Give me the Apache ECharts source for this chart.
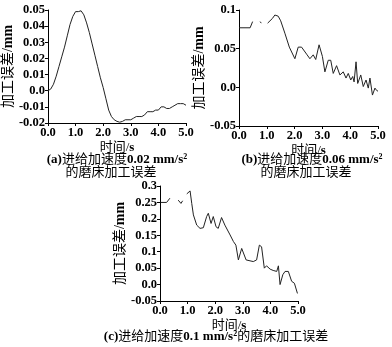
<!DOCTYPE html>
<html><head><meta charset="utf-8">
<script src="https://cdn.jsdelivr.net/npm/echarts@6/dist/echarts.min.js"></script>
<style>html,body{margin:0;padding:0;background:#fff}#c{width:392px;height:347px}</style>
</head><body><div id="c"></div>
<script>
// Data [time s, error mm]
const seriesA = [[0,0],[0.1,0.001],[0.2,0.004],[0.3,0.009],[0.4,0.015],[0.5,0.021],[0.6,0.027],[0.7,0.034],[0.8,0.041],[0.9,0.046],[1.0,0.049],[1.1,0.049],[1.2,0.0495],[1.3,0.047],[1.4,0.042],[1.5,0.036],[1.6,0.029],[1.7,0.022],[1.8,0.015],[1.9,0.008],[2.0,0.002],[2.1,-0.005],[2.2,-0.012],[2.3,-0.016],[2.4,-0.018],[2.5,-0.019],[2.6,-0.0195],[2.7,-0.019],[2.8,-0.018],[2.9,-0.018],[3.0,-0.018],[3.1,-0.017],[3.2,-0.016],[3.3,-0.016],[3.4,-0.016],[3.5,-0.015],[3.6,-0.013],[3.7,-0.013],[3.8,-0.013],[3.9,-0.012],[4.0,-0.012],[4.1,-0.010],[4.2,-0.010],[4.3,-0.011],[4.4,-0.011],[4.5,-0.010],[4.6,-0.009],[4.7,-0.008],[4.8,-0.008],[4.9,-0.008],[5.0,-0.009]];
const seriesB = [[0,0.077],[0.4,0.077],[0.49,0.085],[0.55,null],[0.76,0.085],[0.8,0.083],[0.85,null],[1.03,0.083],[1.1,0.081],[1.2,0.089],[1.29,0.0935],[1.41,0.092],[1.5,0.086],[1.65,0.070],[1.81,0.052],[2.01,0.037],[2.13,0.052],[2.25,0.052],[2.45,0.042],[2.55,0.037],[2.67,0.042],[2.76,0.036],[2.88,0.055],[3.0,0.040],[3.09,0.020],[3.21,0.035],[3.3,0.035],[3.39,0.018],[3.51,0.028],[3.63,0.016],[3.75,0.020],[3.85,0.012],[3.93,0.018],[4.02,0.0095],[4.09,0.014],[4.14,0.007],[4.21,0.033],[4.27,0.005],[4.38,0.016],[4.47,0.001],[4.57,0.0095],[4.65,-0.001],[4.71,0.012],[4.8,-0.010],[4.89,-0.001],[4.95,-0.004],[5.0,-0.005]];
const seriesC = [[0.03,0.25],[0.24,0.25],[0.36,0.263],[0.45,null],[0.66,0.257],[0.76,0.247],[0.82,0.255],[0.9,null],[0.97,0.276],[1.09,0.285],[1.15,0.247],[1.21,0.212],[1.33,0.181],[1.45,0.171],[1.57,0.173],[1.69,0.207],[1.75,0.217],[1.85,0.186],[1.93,0.207],[2.03,0.176],[2.11,0.171],[2.23,0.204],[2.35,0.181],[2.54,0.151],[2.66,0.131],[2.75,0.12],[2.84,0.075],[2.96,0.11],[3.02,0.105],[3.12,0.075],[3.38,0.07],[3.5,0.075],[3.6,0.12],[3.68,0.115],[3.78,0.05],[3.86,0.057],[3.99,0.047],[4.1,0.043],[4.23,0.04],[4.29,0.057],[4.35,0.0],[4.45,0.03],[4.53,0.04],[4.65,0.04],[4.77,0.01],[4.87,0.004],[4.98,-0.027]];
const xTicks = {min:0, max:5, interval:1};
const yA = {min:-0.02, max:0.05, interval:0.01};
const yB = {min:-0.05, max:0.1, interval:0.05};
const yC = {min:-0.05, max:0.3, interval:0.05};
const yName = '{c|加工误差/}{b|mm}';
const xName = '{c|时间/}{b|s}';

const FONT = '"Liberation Serif","Noto Sans CJK SC",serif';
const yFmt = v => Math.abs(v) < 1e-9 ? '0.0' : String(parseFloat(v.toFixed(3)));
const xFmt = v => v.toFixed(1);
const axisLine = {show:true, onZero:false, lineStyle:{color:'#000', width:1}};
const axisTick = {show:true, inside:false, length:3, lineStyle:{color:'#000'}};
function nameRich(sz){
  return {c:{fontFamily:FONT, fontSize:sz, color:'#000'}, b:{fontFamily:FONT, fontSize:sz, fontWeight:'bold', color:'#000'}};
}
function xAxis(i){
  return {type:'value', gridIndex:i, ...xTicks, axisLine, axisTick, splitLine:{show:false},
    axisLabel:{formatter:xFmt, color:'#000', fontFamily:FONT, fontWeight:'bold', fontSize:12.5, margin:4},
    name:xName, nameLocation:'middle', nameGap:18,
    nameTextStyle:{color:'#000', fontFamily:FONT, fontSize:13, rich:nameRich(13)}};
}
function yAxis(i, r, gap){
  return {type:'value', gridIndex:i, ...r, axisLine, axisTick, splitLine:{show:false},
    axisLabel:{formatter:yFmt, color:'#000', fontFamily:FONT, fontWeight:'bold', fontSize:12.5, margin:3},
    name:yName, nameLocation:'middle', nameGap:gap, nameRotate:90,
    nameTextStyle:{color:'#000', fontFamily:FONT, fontSize:14, rich:nameRich(14)}};
}
function line(i, d){
  return {type:'line', xAxisIndex:i, yAxisIndex:i, data:d, showSymbol:false, connectNulls:false,
    lineStyle:{color:'#222', width:1}, animation:false, smooth:false};
}
const rich = {
  b:{fontFamily:FONT, fontWeight:'bold', fontSize:13, fill:'#000'},
  c:{fontFamily:FONT, fontSize:13, fill:'#000'},
  s:{fontFamily:FONT, fontWeight:'bold', fontSize:8, fill:'#000', padding:[0,0,7,0]}
};
function cap(x, y, text){
  return {type:'text', x, y, style:{text, rich, align:'center', verticalAlign:'middle', fill:'#000'}};
}
const chart = echarts.init(document.getElementById('c'), null, {renderer:'canvas'});
chart.setOption({
  backgroundColor:'#fff',
  animation:false,
  grid:[
    {left:47, top:10, width:139, height:113},
    {left:239, top:10, width:139, height:116},
    {left:160, top:186, width:138, height:115}
  ],
  xAxis:[xAxis(0), xAxis(1), xAxis(2)],
  yAxis:[yAxis(0, yA, 29), yAxis(1, yB, 28), yAxis(2, yC, 30)],
  series:[line(0, seriesA), line(1, seriesB), line(2, seriesC)],
  graphic:[
    cap(117, 160, '{b|(a)}{c|进给加速度}{b|0.02 mm/s}{s|2}'),
    cap(111, 173, '{c|的磨床加工误差}'),
    cap(312, 160, '{b|(b)}{c|进给加速度}{b|0.06 mm/s}{s|2}'),
    cap(306, 173, '{c|的磨床加工误差}'),
    cap(216, 337, '{b|(c)}{c|进给加速度}{b|0.1 mm/s}{s|2}{c|的磨床加工误差}')
  ]
});
</script></body></html>
